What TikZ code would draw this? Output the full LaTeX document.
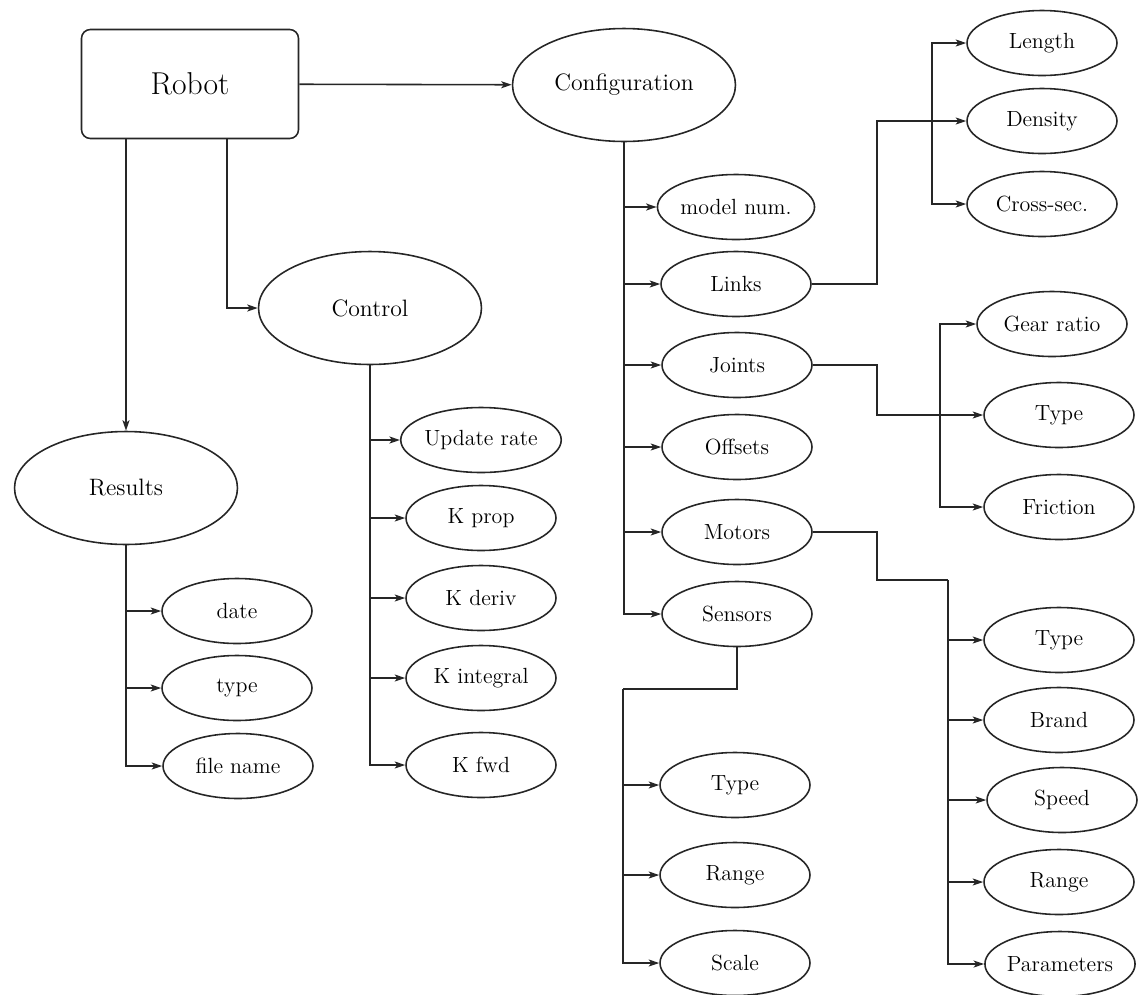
\documentclass[tikz,border=0pt]{standalone}
\usepackage{fontspec}
\usepackage{tikz}
\usetikzlibrary{arrows.meta,shapes.geometric}

\begin{document}
\begin{tikzpicture}[x=0.02cm,y=-0.02cm,line width=0.9pt,color=black!85,
	>={Stealth[length=6pt,width=4pt,inset=1.5pt]},
	topbox/.style={draw,rounded corners=5pt,minimum width=4.34cm,minimum height=2.18cm,inner sep=0pt,text=black,font=\fontsize{18}{20}\selectfont},
	bigoval/.style={draw,ellipse,minimum width=4.46cm,minimum height=2.26cm,inner sep=0pt,text=black,font=\fontsize{13.5}{15}\selectfont},
	leaf/.style={draw,ellipse,minimum width=3.0cm,minimum height=1.3cm,inner sep=0pt,text=black,font=\fontsize{12.5}{14}\selectfont}]
	\useasboundingbox (0,0) rectangle (1144,995);
	% main blocks
	\node[topbox] (robot) at (190,84) {Robot};
	\node[bigoval] (config) at (624,85) {Configuration};
	\node[bigoval] (control) at (370,308) {Control};
	\node[bigoval] (results) at (126,488) {Results};
	% results
	\node[leaf] (date) at (237,611) {date};
	\node[leaf] (rtype) at (237,688) {type};
	\node[leaf] (fname) at (238,766) {file name};
	% control
	\node[leaf] (update) at (481,440) {Update rate};
	\node[leaf] (kprop) at (481,518) {K prop};
	\node[leaf] (kderiv) at (481,598) {K deriv};
	\node[leaf] (kint) at (481,678) {K integral};
	\node[leaf] (kfwd) at (481,765) {K fwd};
	% configuration
	\node[leaf] (modelnum) at (736,207) {model num.};
	\node[leaf] (links) at (736,284) {Links};
	\node[leaf] (joints) at (737,365) {Joints};
	\node[leaf] (offsets) at (737,447) {Offsets};
	\node[leaf] (motors) at (737,532) {Motors};
	\node[leaf] (sensors) at (737,614) {Sensors};
	\node[leaf] (stype) at (735,785) {Type};
	\node[leaf] (srange) at (735,875) {Range};
	\node[leaf] (sscale) at (735,963) {Scale};
	\node[leaf] (length) at (1042,43) {Length};
	\node[leaf] (density) at (1042,121) {Density};
	\node[leaf] (crosssec) at (1042,204) {Cross-sec.};
	\node[leaf] (gear) at (1052,324) {Gear ratio};
	\node[leaf] (jtype) at (1059,415) {Type};
	\node[leaf] (friction) at (1059,507) {Friction};
	\node[leaf] (mtype) at (1059,640) {Type};
	\node[leaf] (brand) at (1059,720) {Brand};
	\node[leaf] (speed) at (1062,800) {Speed};
	\node[leaf] (mrange) at (1059,882) {Range};
	\node[leaf] (params) at (1060,964) {Parameters};
	% bus points
	\coordinate (lk) at (932,121);
	\coordinate (jk) at (940,415);
	\coordinate (mk) at (948,580);
	\coordinate (sk) at (623,689);
	% connectors
	\draw[->] (robot) -- (config);
	\draw[->] (robot.south -| results) -- (results.north);
	\draw[->] ([xshift=0.74cm]robot.south) |- (control.west);
	\foreach \n in {date,rtype,fname}
		\draw[->] (results.south) |- (\n.west);
	\foreach \n in {update,kprop,kderiv,kint,kfwd}
		\draw[->] (control.south) |- (\n.west);
	\foreach \n in {modelnum,links,joints,offsets,motors,sensors}
		\draw[->] (config.south) |- (\n.west);
	\draw[->] (links.east) -- ++(65,0) |- (density.west);
	\draw[->] (lk) |- (length.west);
	\draw[->] (lk) |- (crosssec.west);
	\draw[->] (joints.east) -- ++(64,0) |- (jtype.west);
	\draw[->] (jk) |- (gear.west);
	\draw[->] (jk) |- (friction.west);
	\draw (motors.east) -- ++(64,0) |- (mk);
	\foreach \n in {mtype,brand,speed,mrange,params}
		\draw[->] (mk) |- (\n.west);
	\draw (sensors.south) |- (sk);
	\foreach \n in {stype,srange,sscale}
		\draw[->] (sk) |- (\n.west);
\end{tikzpicture}
\end{document}
